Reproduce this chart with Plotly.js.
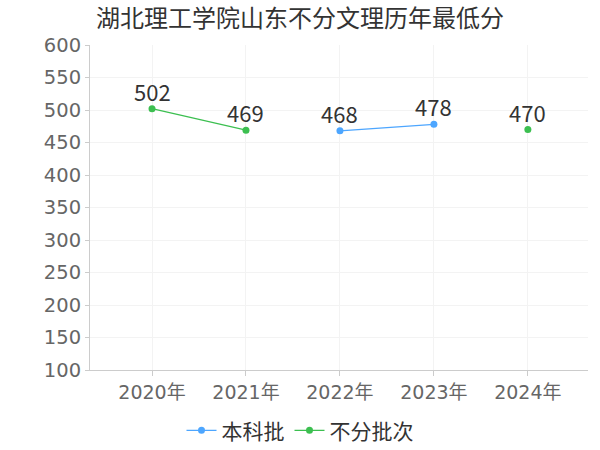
<!DOCTYPE html>
<html><head><meta charset="utf-8">
<script src="https://cdn.plot.ly/plotly-3.0.1.min.js"></script>
<style>html,body{margin:0;padding:0;background:#fff;}</style>
</head><body>
<div id="chart" style="width:600px;height:450px;"></div>
<script>
var categories = ["2020年","2021年","2022年","2023年","2024年"];
var benke = [null, null, 468, 478, null];
var bufen = [502, 469, null, null, 470];
var yTicks = [100,150,200,250,300,350,400,450,500,550,600];

var font = "DejaVu Sans, Verdana, 'Noto Sans CJK SC', sans-serif";
var cjk = "'Noto Sans CJK SC', sans-serif";
function trace(name, vals, color){
  return {
    type: "scatter", mode: "lines+markers", name: name,
    x: categories, y: vals,
    line: {color: color, width: 1.2},
    marker: {color: color, size: 7},
    connectgaps: false, cliponaxis: false, hoverinfo: "x+y"
  };
}
var data = [trace("本科批", benke, "#4da6ff"), trace("不分批次", bufen, "#3cbf50")];
var annotations = [];
[benke, bufen].forEach(function(vals){
  vals.forEach(function(v, i){
    if (v === null) return;
    annotations.push({x: categories[i], y: v, xref: "x", yref: "y", text: String(v), showarrow: false,
      yanchor: "bottom", yshift: 0, font: {family: cjk, size: 22, color: "#333"}});
  });
});
var layout = {
  width: 600, height: 450,
  margin: {l: 90, r: 12, t: 45, b: 80},
  paper_bgcolor: "#fff", plot_bgcolor: "#fff",
  title: {text: "湖北理工学院山东不分文理历年最低分", x: 0.5, xanchor: "center", y: 0.958, yanchor: "middle",
          font: {family: cjk, size: 24, color: "#333"}},
  xaxis: {type: "category", range: [-0.66, 4.64], showgrid: true, gridcolor: "#f3f3f3",
          showline: true, linecolor: "#ccc", linewidth: 1, ticks: "outside", ticklen: 5, tickcolor: "#ccc",
          tickfont: {family: font, size: 19, color: "#666"}, fixedrange: true, automargin: false},
  yaxis: {range: [100, 600], tickvals: yTicks, showgrid: true, gridcolor: "#f3f3f3", zeroline: false,
          showline: true, linecolor: "#ccc", linewidth: 1, ticks: "outside", ticklen: 4, tickcolor: "#ccc",
          tickfont: {family: font, size: 19.5, color: "#666"}, fixedrange: true, automargin: false},
  annotations: annotations,
  showlegend: true,
  legend: {orientation: "h", x: 0.5, xanchor: "center", xref: "container", y: 0.043, yref: "container", yanchor: "middle",
           font: {family: cjk, size: 21, color: "#333"}, itemwidth: 30, tracegroupgap: 0}
};
Plotly.newPlot("chart", data, layout, {displayModeBar: false, staticPlot: true});
</script>
</body></html>
